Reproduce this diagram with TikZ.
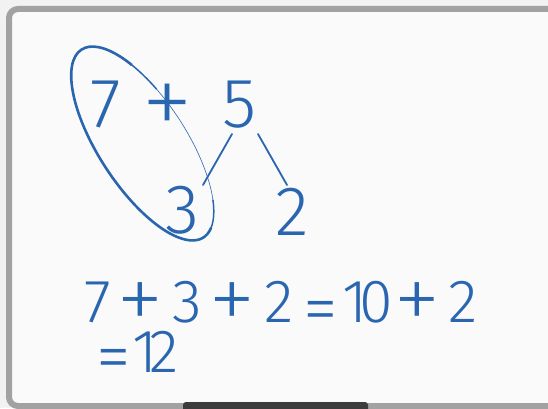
\documentclass[tikz,border=0pt]{standalone}
\usepackage{fontspec}
\newfontfamily\hand{Fira Sans Light}
\newfontfamily\handthin{Fira Sans ExtraLight}
\definecolor{ink}{HTML}{2A66B0}
\definecolor{outerbg}{HTML}{F2F2F2}
\definecolor{board}{HTML}{FAFAFA}
\definecolor{rim}{HTML}{A2A2A2}
\definecolor{bar}{HTML}{3C3C3C}
\tikzset{
  big/.style={inner sep=0pt, anchor=base, text=ink, font=\hand\fontsize{70}{70}\selectfont},
  mid/.style={inner sep=0pt, anchor=base, text=ink, font=\hand\fontsize{61}{61}\selectfont},
  op/.style={inner sep=0pt, anchor=base, text=ink, font=\handthin\fontsize{97}{97}\selectfont},
  eq/.style={inner sep=0pt, anchor=base, text=ink, font=\hand\fontsize{70}{70}\selectfont},
  stroke/.style={draw=ink, line cap=round}
}
\begin{document}
\begin{tikzpicture}[x=1pt,y=1pt]
\useasboundingbox (0,0) rectangle (548,408);
\fill[outerbg] (0,0) rectangle (548,408);
\begin{scope}
\clip (0,0) rectangle (548,408);
\draw[rim, fill=board, line width=6pt, rounded corners=9pt] (9,2) rectangle (575,399);
\fill[bar, rounded corners=3pt] (183,-6) rectangle (368,6);
\end{scope}
% top row
\node[big] (t7) at (106,281) {7};
\node[op, font=\handthin\fontsize{106}{106}\selectfont] (tp) at (168,271) {+};
\node[big] (t5) at (240,281) {5};
\node[big] (t3) at (183,175) {3};
\node[big] (t2) at (292,173) {2};
% connectors
\coordinate (a1) at (232,274);
\coordinate (a2) at (203,223);
\coordinate (b1) at (258,274);
\coordinate (b2) at (287,223);
\draw[stroke, line width=1.8pt] (a1) -- (a2);
\draw[stroke, line width=1.8pt] (b1) -- (b2);
% ellipse
\begin{scope}[shift={(142.5,264.5)}, rotate=-57]
\coordinate (ec) at (0,0);
\draw[stroke, line width=2.6pt] (130:112pt and 44pt) arc[start angle=130, end angle=375, x radius=112pt, y radius=44pt];
\draw[stroke, line width=1.5pt] (375:112pt and 44pt) arc[start angle=375, end angle=400, x radius=112pt, y radius=44pt];
\draw[stroke, line width=0.6pt] (400:112pt and 44pt) arc[start angle=400, end angle=470, x radius=112pt, y radius=44pt];
\draw[stroke, line width=1.5pt] (110:112pt and 44pt) arc[start angle=110, end angle=130, x radius=112pt, y radius=44pt];
\end{scope}
% bottom equation
\node[mid] (b7) at (98,86) {7};
\node[op] (bp1) at (140,77) {+};
\node[mid] (b3) at (187,86) {3};
\node[op] (bp2) at (232,77) {+};
\node[mid] (b2n) at (279,86) {2};
\node[eq] (beq) at (321,76) {=};
\node[mid] (b10) at (367.5,86) {1\kern-8.5pt 0};
\node[op] (bp3) at (417,77) {+};
\node[mid] (b2m) at (463,86) {2};
% second line
\node[mid, anchor=base west] (c12) at (96,36) {\raisebox{-8pt}{\fontsize{70}{70}\selectfont =}\kern2pt 1\kern-8.5pt 2};
\end{tikzpicture}
\end{document}
